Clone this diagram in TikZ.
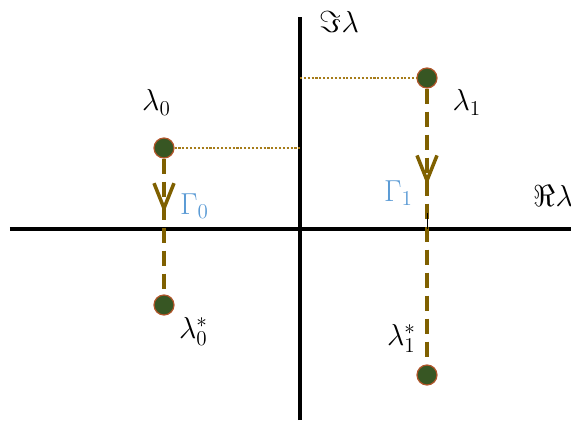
\documentclass[tikz,border=0pt]{standalone}
\usepackage{amsmath,amssymb}
\usepackage{xcolor}
\usepackage{tikz}
\usetikzlibrary{arrows.meta,positioning,decorations.markings}
\definecolor{leafgreen}{HTML}{375623}
\definecolor{rustred}{HTML}{B0552A}
\definecolor{flowbrown}{HTML}{7F6000}
\definecolor{projgold}{HTML}{A67C1A}
\definecolor{skyblue}{HTML}{5B9BD5}

\begin{document}
\begin{tikzpicture}[
  pole/.style={circle,draw=rustred,fill=leafgreen,line width=0.7pt,minimum size=4mm,inner sep=0pt},
  axisline/.style={line width=2.3pt},
  flow/.style={line width=2.3pt,draw=flowbrown,dash pattern=on 3mm off 1.6mm},
  flowtip/.style={decoration={markings,mark=at position #1 with {\arrow[solid,line width=2pt]{Straight Barb[length=5mm,width=4mm]}}},postaction={decorate}},
  proj/.style={line width=0.6pt,draw=projgold,dash pattern=on 1.2pt off 1pt},
  lbl/.style={inner sep=1pt,font=\LARGE},
  glbl/.style={inner sep=1pt,font=\LARGE,text=skyblue}
]
\useasboundingbox (-6,-3.98) rectangle (5.42,4.58);
\coordinate (o) at (0,0);
\coordinate (rl) at (-5.8,0);
\coordinate (rr) at (5.42,0);
\coordinate (ib) at (0,-3.82);
\coordinate (it) at (0,4.24);
\draw[axisline] (rl) -- (rr);
\draw[axisline] (ib) -- (it);
\node[pole] (lam0) at (-2.72,1.62) {};
\node[pole] (lam0s) at (-2.72,-1.52) {};
\node[pole] (lam1) at (2.54,3.02) {};
\node[pole] (lam1s) at (2.54,-2.92) {};
\draw[proj] (lam0) -- (lam0 -| o);
\draw[proj] (o |- lam1) -- (lam1);
\draw[flow,flowtip=0.4] (lam0) -- (lam0s);
\draw[flow,flowtip=0.35] (lam1) -- (lam1s);
\coordinate (tk) at (2.54,0.32);
\draw[line width=0.4pt] (tk) -- (lam1 |- o);
\node[lbl,above=4mm of lam0,xshift=-1.5mm] (l0) {$\lambda_0$};
\node[lbl,below right=0.4mm and 3.2mm of lam1] (l1) {$\lambda_1$};
\node[lbl,below right=0.5mm and 1.1mm of lam0s] (l0s) {$\lambda_0^*$};
\node[lbl,above left=2.5mm and 0.3mm of lam1s] (l1s) {$\lambda_1^*$};
\node[glbl,below right=7.2mm and 1.3mm of lam0] (g0) {$\Gamma_0$};
\node[glbl,below left=18.6mm and 0.9mm of lam1] (g1) {$\Gamma_1$};
\node[lbl,right=3.5mm of it,yshift=-1mm] (im) {$\Im\lambda$};
\node[lbl,above left=4mm and -0.8mm of rr] (re) {$\Re\lambda$};
\end{tikzpicture}
\end{document}
